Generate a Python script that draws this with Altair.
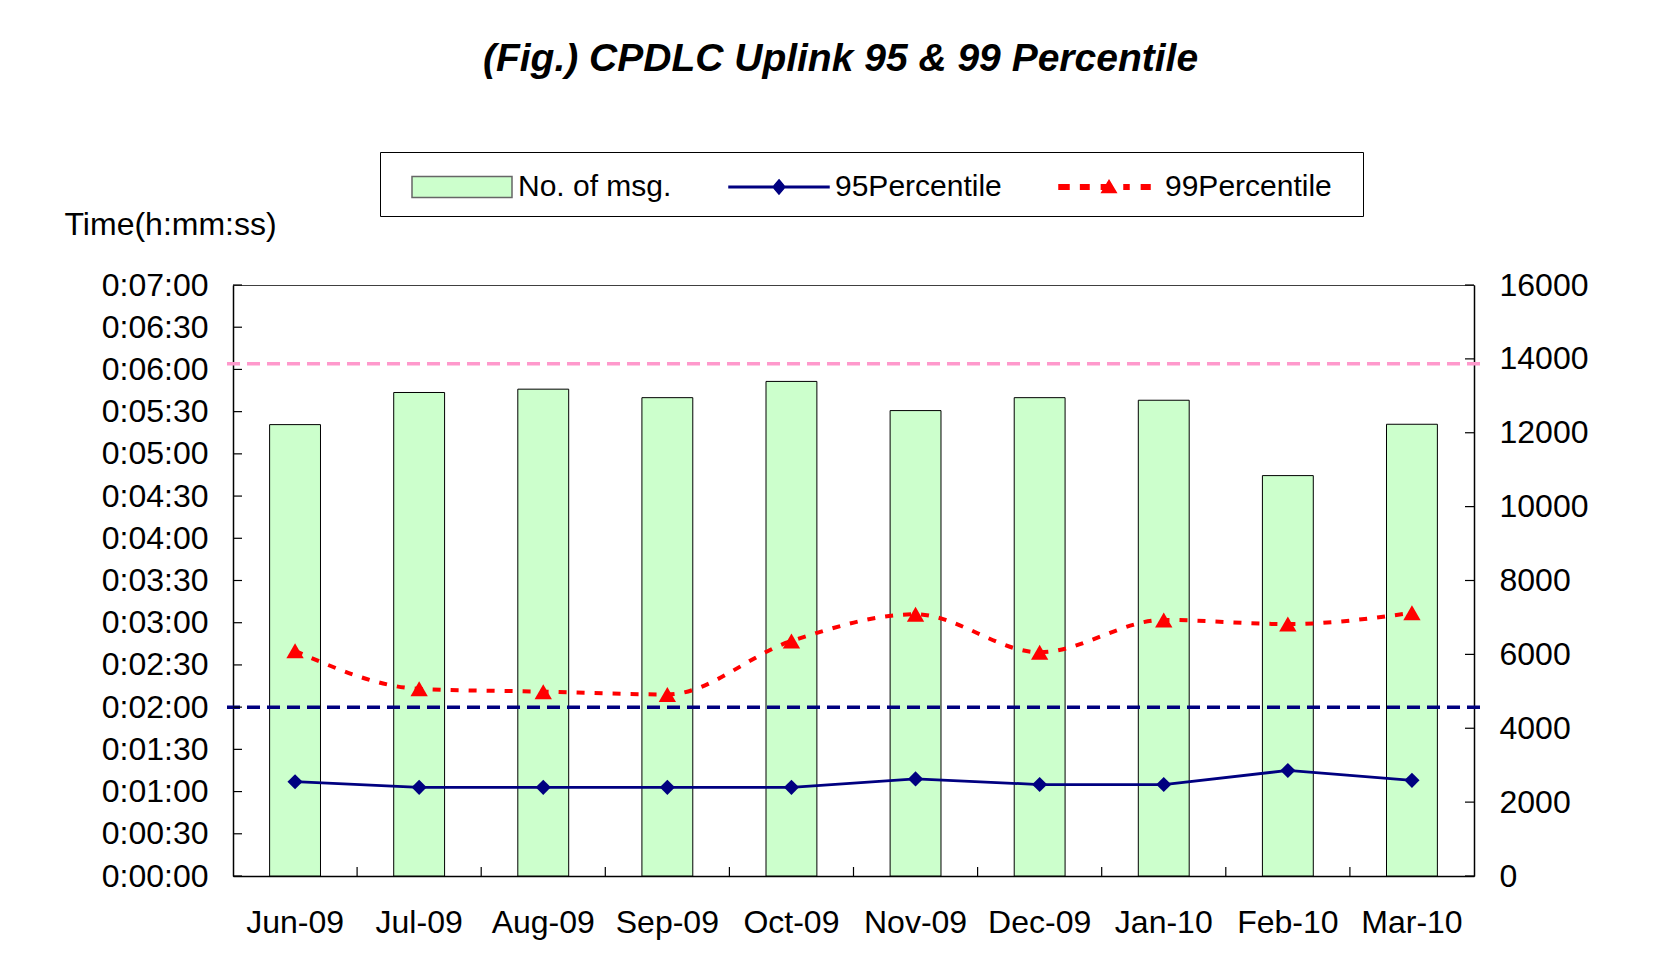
import altair as alt
import pandas as pd

# ---------------- data ----------------
months = ["Jun-09", "Jul-09", "Aug-09", "Sep-09", "Oct-09",
          "Nov-09", "Dec-09", "Jan-10", "Feb-10", "Mar-10"]
msg_count = [12220, 13090, 13180, 12950, 13390, 12600, 12950, 12880, 10840, 12230]
p95_times = ["0:01:07", "0:01:03", "0:01:03", "0:01:03", "0:01:03",
             "0:01:09", "0:01:05", "0:01:05", "0:01:15", "0:01:08"]
p99_times = ["0:02:40", "0:02:13", "0:02:11", "0:02:09", "0:02:47",
             "0:03:06", "0:02:39", "0:03:02", "0:02:59", "0:03:07"]
legend_names = ["No. of msg.", "95Percentile", "99Percentile"]
left_ticks = list(range(0, 421, 30))          # seconds, 0:00:00 .. 0:07:00
right_ticks = list(range(0, 16001, 2000))
ref_navy = "0:02:00"
ref_pink = "0:06:04"


def to_sec(t):
    h, m, s = t.split(":")
    return int(h) * 3600 + int(m) * 60 + int(s)


df = pd.DataFrame({
    "month": months,
    "msgs": msg_count,
    "p95": [to_sec(t) for t in p95_times],
    "p99": [to_sec(t) for t in p99_times],
})

# ---------------- style ----------------
FONT = "Liberation Sans"
W, H = 1241, 591
TL = 9  # inside tick length
AX_FS = 32

fill_colors = ["#CCFFCC", "#000080", "#FF0000"]
stroke_colors = ["#666666", "#000080", "#FF0000"]
legend_paths = [
    "M-2.5,-0.52H2.5V0.52H-2.5Z",
    "M-2.5,-0.04H2.5V0.04H-2.5Z M0,-0.36L0.3,0L0,0.36L-0.3,0Z",
    "M-2.5,-0.11H-2.0V0.11H-2.5Z M-1.42,-0.11H-1.0V0.11H-1.42Z "
    "M-0.38,-0.11H0V0.11H-0.38Z M0.75,-0.11H1.0V0.11H0.75Z "
    "M1.62,-0.11H2.05V0.11H1.62Z M0,-0.33L0.36,0.28L-0.36,0.28Z",
]

x_scale = alt.Scale(type="band", domain=months, paddingInner=0, paddingOuter=0)
y_left = alt.Scale(domain=[0, 420], nice=False)
y_right = alt.Scale(domain=[0, 16000], nice=False)

x_axis = alt.Axis(title="", labelFont=FONT, labelFontSize=AX_FS, labelColor="black",
                  labelPadding=31, labelAngle=0, ticks=False, tickSize=0,
                  domainColor="black", domainWidth=1.5, grid=False)
left_axis = alt.Axis(
    orient="left", values=left_ticks,
    labelExpr="floor(datum.value / 3600) + ':' + format(floor((datum.value % 3600) / 60), '02d') + ':' + format(datum.value % 60, '02d')",
    title="Time(h:mm:ss)", titleAngle=0, titleX=-169, titleY=-61,
    titleAlign="left", titleBaseline="middle", titleFont=FONT,
    titleFontSize=32, titleFontWeight="normal", titleColor="black",
    labelFont=FONT, labelFontSize=AX_FS, labelColor="black", labelPadding=25,
    ticks=False, tickSize=0, grid=False, domainColor="black", domainWidth=1.5)
right_axis = alt.Axis(
    orient="right", values=right_ticks, format="d", title="",
    labelFont=FONT, labelFontSize=AX_FS, labelColor="black", labelPadding=25,
    ticks=False, tickSize=0, grid=False, domainColor="black", domainWidth=1.5)

legend_def = alt.Legend(
    orient="none", legendX=147, legendY=-133, direction="horizontal",
    title=" ", titleOrient="left", titleFontSize=8, titlePadding=47,
    padding=14, strokeColor="black", fillColor="white",
    symbolSize=1600, symbolStrokeWidth=1.5, symbolOpacity=1,
    labelOffset=35, labelFont=FONT, labelFontSize=30, labelColor="black",
    labelLimit=0, columnPadding=54,
    labelExpr="datum.label == '99Percentile' ? datum.label + '\u00a0\u00a0\u200b' : datum.label")

# ---------------- right (bars) group ----------------
x_enc = alt.X("month:N", scale=x_scale, axis=x_axis)

bars = alt.Chart(df).mark_bar(
    width=alt.RelativeBandSize(band=0.41), color="#CCFFCC", stroke="black", strokeWidth=1
).encode(
    x=x_enc,
    y=alt.Y("msgs:Q", scale=y_right, axis=right_axis),
)

right_tick_marks = alt.Chart(pd.DataFrame({"v": right_ticks})).mark_rule(
    color="black", strokeWidth=1.2
).encode(
    y=alt.Y("v:Q", scale=y_right, axis=right_axis),
    x=alt.value(W - TL), x2=alt.value(W),
)

bottom_tick_marks = alt.Chart(pd.DataFrame({"month": months[1:]})).mark_rule(
    color="black", strokeWidth=1.2
).encode(
    x=alt.X("month:N", scale=x_scale, bandPosition=0, axis=x_axis),
    y=alt.value(H - TL), y2=alt.value(H),
)

right_group = alt.layer(bars, right_tick_marks, bottom_tick_marks)

# ---------------- left (time) group ----------------
pink_rule = alt.Chart(pd.DataFrame({"v": [to_sec(ref_pink)]})).mark_rule(
    color="#FF99CC", strokeWidth=3.5, strokeDash=[13, 7]
).encode(
    y=alt.Y("v:Q", scale=y_left, axis=left_axis),
    x=alt.value(-6), x2=alt.value(W + 8),
)
navy_rule = alt.Chart(pd.DataFrame({"v": [to_sec(ref_navy)]})).mark_rule(
    color="#000080", strokeWidth=3.5, strokeDash=[13, 7]
).encode(
    y=alt.Y("v:Q", scale=y_left, axis=left_axis),
    x=alt.value(-6), x2=alt.value(W + 8),
)

line99 = alt.Chart(df).mark_line(
    color="#FF0000", strokeWidth=4, strokeDash=[8, 10], interpolate="monotone"
).encode(x=x_enc, y=alt.Y("p99:Q", scale=y_left, axis=left_axis))
pts99 = alt.Chart(df).mark_point(
    shape="triangle-up", filled=True, size=300, color="#FF0000", opacity=1
).encode(x=x_enc, y=alt.Y("p99:Q", scale=y_left, axis=left_axis))

line95 = alt.Chart(df).mark_line(color="#000080", strokeWidth=2.8).encode(
    x=x_enc, y=alt.Y("p95:Q", scale=y_left, axis=left_axis))
pts95 = alt.Chart(df).mark_point(
    shape="diamond", filled=True, size=230, color="#000080", opacity=1
).encode(x=x_enc, y=alt.Y("p95:Q", scale=y_left, axis=left_axis))

left_tick_marks = alt.Chart(pd.DataFrame({"v": left_ticks})).mark_rule(
    color="black", strokeWidth=1.2
).encode(
    y=alt.Y("v:Q", scale=y_left, axis=left_axis),
    x=alt.value(0), x2=alt.value(TL),
)

legend_layer = alt.Chart(pd.DataFrame({"series": legend_names})).mark_point(
    filled=True, opacity=1
).encode(
    fill=alt.Fill("series:N", scale=alt.Scale(domain=legend_names, range=fill_colors), legend=legend_def),
    stroke=alt.Stroke("series:N", scale=alt.Scale(domain=legend_names, range=stroke_colors), legend=legend_def),
    shape=alt.Shape("series:N", scale=alt.Scale(domain=legend_names, range=legend_paths), legend=legend_def),
).transform_filter("false")

left_group = alt.layer(line95, pink_rule, navy_rule, line99, pts99, pts95,
                       left_tick_marks, legend_layer)

chart = alt.layer(right_group, left_group).resolve_scale(
    y="independent"
).properties(
    width=W, height=H,
    title=alt.TitleParams(
        text="(Fig.) CPDLC Uplink 95 & 99 Percentile", font=FONT, fontSize=39,
        fontWeight="bold", fontStyle="italic", color="black", anchor="middle",
        dx=-13, offset=73),
    padding={"left": 56, "top": 31, "right": 20, "bottom": 20},
    background="white",
).configure_view(stroke="#404040", strokeWidth=1)

chart.save("out.html", embed_options={"renderer": "svg", "actions": False})
